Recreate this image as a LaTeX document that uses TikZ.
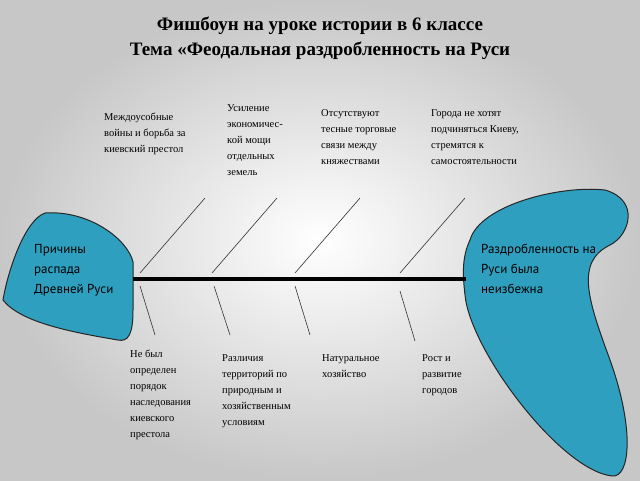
\documentclass[tikz,border=0pt]{standalone}
\usepackage{fontspec}
\setmainfont{Liberation Serif}
\newfontfamily\blobfont{PT Sans}
\begin{document}
\begin{tikzpicture}[x=1pt,y=-1pt,
  lbl/.style={align=left,anchor=north west,font=\fontsize{10.5}{16}\selectfont,inner sep=0pt},
  bone/.style={line width=0.6pt,black!80}]
\definecolor{fishc}{HTML}{2E9FBE}
\shade[inner color=white,outer color=black!22] (0,0) rectangle (640,480);
\useasboundingbox (0,0) rectangle (640,480);
\node[font=\bfseries\fontsize{19}{25}\selectfont,align=center] (title) at (320,38)
  {Фишбоун на уроке истории в 6 классе\\Тема «Феодальная раздробленность на Руси};
% left head
\draw[fill=fishc,draw=black!85,line width=1pt] (45,213) .. controls (90,210) and (128,240) .. (133,262)
  -- (133,310) .. controls (133,335) and (128,342) .. (118,340)
  .. controls (70,332) and (20,322) .. (3,300)
  .. controls (8,270) and (25,220) .. (45,213) -- cycle;
% right tail
\draw[fill=fishc,draw=black!85,line width=1pt] (470,240) .. controls (480,205) and (560,185) .. (605,190)
  .. controls (640,200) and (630,235) .. (610,245)
  .. controls (575,262) and (588,300) .. (610,360)
  .. controls (635,430) and (630,478) .. (612,476)
  .. controls (560,470) and (470,350) .. (465,295)
  .. controls (462,270) and (463,255) .. (470,240) -- cycle;
\coordinate (s1) at (133,279); \coordinate (s2) at (466,279);
\draw[line width=3.5pt] (s1) -- (s2);
\foreach \x in {140,212,295,400}{
  \draw[bone] (\x,273) -- ++(65,-75);}
\draw[bone] (140,286) -- (155,335);
\draw[bone] (214,286) -- (230,335);
\draw[bone] (295,286) -- (310,335);
\draw[bone] (400,291) -- (415,341);
\node[lbl,font=\blobfont\fontsize{13}{20}\selectfont] (h) at (34,244) {Причины\\распада\\Древней Руси};
\node[lbl,font=\blobfont\fontsize{13}{20}\selectfont] (t) at (481,244) {Раздробленность на\\Руси была\\неизбежна};
\node[lbl] (a) at (104,113) {Междоусобные\\войны и борьба за\\киевский престол};
\node[lbl] (b) at (227,104) {Усиление\\экономичес-\\кой мощи\\отдельных\\земель};
\node[lbl] (c) at (321,109) {Отсутствуют\\тесные торговые\\связи между\\княжествами};
\node[lbl] (d) at (431,109) {Города не хотят\\подчиняться Киеву,\\стремятся к\\самостоятельности};
\node[lbl] (e) at (130,350) {Не был\\определен\\порядок\\наследования\\киевского\\престола};
\node[lbl] (f) at (222,354) {Различия\\территорий по\\природным и\\хозяйственным\\условиям};
\node[lbl] (g) at (322,354) {Натуральное\\хозяйство};
\node[lbl] (k) at (422,354) {Рост и\\развитие\\городов};
\end{tikzpicture}
\end{document}
